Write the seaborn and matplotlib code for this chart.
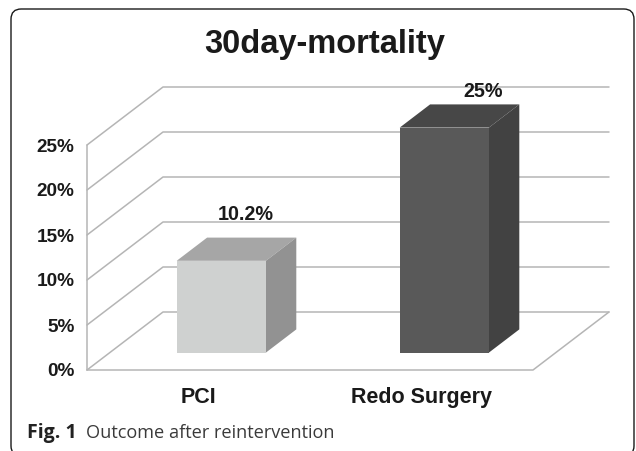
import seaborn as sns
import pandas as pd
import matplotlib.pyplot as plt
from matplotlib.patches import FancyBboxPatch, Polygon

title = '30day-mortality'
categories = ['PCI', 'Redo Surgery']
values = [10.2, 25]
value_labels = ['10.2%', '25%']
yticks = [0, 5, 10, 15, 20, 25]
front_colors = ['#cfd1d0', '#595959']
top_colors = ['#a6a6a6', '#474747']
side_colors = ['#929292', '#424242']

W, H = 636, 451
GRID = '#b5b5b5'
# oblique depth of the chart box, in data units
DX = 76 / 223
DY = 58 / 9
BAR_FRONT = 0.3
BAR_BACK = 0.7


def px_box(left, top, right, bottom):
    return [left / W, 1 - bottom / H, (right - left) / W, (bottom - top) / H]


def draw_walls(ax):
    x0, x1 = -0.5, 1.5
    for t in yticks:
        ax.plot([x0, x0 + DX, x1 + DX], [t, t + DY, t + DY], color=GRID, lw=1.1, clip_on=False, zorder=1)
    ax.plot([x0, x0], [0, 25], color=GRID, lw=1.1, clip_on=False, zorder=1)
    ax.plot([x0, x1, x1 + DX], [0, 0, DY], color=GRID, lw=1.1, clip_on=False, zorder=1)


def draw_bars(ax):
    for i, bar in enumerate(ax.patches):
        x = bar.get_x() + BAR_FRONT * DX
        w = bar.get_width()
        h = bar.get_height()
        y = BAR_FRONT * DY
        bar.set_x(x)
        bar.set_y(y)
        bar.set_zorder(4)
        bar.set_clip_on(False)
        dx = (BAR_BACK - BAR_FRONT) * DX
        dy = (BAR_BACK - BAR_FRONT) * DY
        top = [(x, y + h), (x + w, y + h), (x + w + dx, y + h + dy), (x + dx, y + h + dy)]
        side = [(x + w, y), (x + w + dx, y + dy), (x + w + dx, y + h + dy), (x + w, y + h)]
        ax.add_patch(Polygon(top, color=top_colors[i], lw=0, zorder=3, clip_on=False))
        ax.add_patch(Polygon(side, color=side_colors[i], lw=0, zorder=3, clip_on=False))


def main():
    sns.set_theme(style='white')
    plt.rcParams['font.family'] = ['Liberation Sans', 'DejaVu Sans']

    fig = plt.figure(figsize=(W / 100, H / 100), dpi=100)
    fig.patch.set_facecolor('white')

    # the frame runs off the bottom edge of the picture
    frame = FancyBboxPatch((11 / W, 1 - 456 / H), 623 / W, 447 / H, boxstyle='round,pad=0,rounding_size=0.016',
                           transform=fig.transFigure, fc='white', ec='#1a1a1a', lw=1.0,
                           mutation_aspect=W / H, zorder=-1)
    fig.add_artist(frame)

    ax = fig.add_axes(px_box(87, 145, 533, 370))
    ax.patch.set_alpha(0)
    df = pd.DataFrame({'category': categories, 'value': values})
    sns.barplot(data=df, x='category', y='value', hue='category', palette=front_colors, width=0.4,
                saturation=1, legend=False, linewidth=0, ax=ax)
    ax.set_xlim(-0.5, 1.5)
    ax.set_ylim(0, 25)
    sns.despine(ax=ax, left=True, bottom=True)
    draw_walls(ax)
    draw_bars(ax)

    ax.set_xlabel('')
    ax.set_ylabel('')
    ax.set_yticks(yticks)
    ax.set_yticklabels([f'{t}%' for t in yticks], fontsize=13.7, fontweight='bold', color='#1a1a1a')
    ax.tick_params(axis='y', length=0, pad=9)
    ax.tick_params(axis='x', length=0, pad=12)
    ax.set_xticks(range(len(categories)))
    ax.set_xticklabels(categories, fontsize=15.5, fontweight='bold', color='#1a1a1a')

    offsets = [(-6, 23), (8, 13)]
    for i, lab in enumerate(value_labels):
        ax.annotate(lab, (i + BAR_BACK * DX, values[i] + BAR_BACK * DY), xytext=offsets[i],
                    textcoords='offset pixels', ha='center', va='center', fontsize=14.2,
                    fontweight='bold', color='#1a1a1a', annotation_clip=False, zorder=5)

    fig.text(324.5 / W, 1 - 44 / H, title, ha='center', va='center', fontsize=23.5, fontweight='bold', color='#1a1a1a')
    fig.text(27 / W, 1 - 433 / H, 'Fig. 1', ha='left', va='center', fontsize=14, fontweight='bold',
             family=['Open Sans'], color='#222222')
    fig.text(86 / W, 1 - 433 / H, 'Outcome after reintervention', ha='left', va='center', fontsize=13.1,
             family=['Open Sans'], color='#3a3a3a')

    fig.savefig('out.png', dpi=100)


if __name__ == '__main__':
    main()
